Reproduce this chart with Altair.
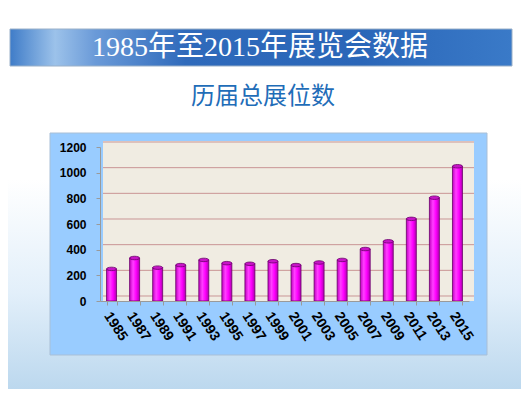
import altair as alt
import pandas as pd

# ---- data ----
years = ["1985", "1987", "1989", "1991", "1993", "1995", "1997", "1999",
         "2001", "2003", "2005", "2007", "2009", "2011", "2013", "2015"]
booths = [250, 335, 260, 280, 320, 295, 290, 310,
          280, 300, 320, 405, 465, 640, 805, 1050]
y_ticks = [0, 200, 400, 600, 800, 1000, 1200]
title_text = "1985年至2015年展览会数据"
subtitle_text = "历届总展位数"

df = pd.DataFrame({"year": years, "booths": booths})
grid_df = pd.DataFrame({"v": y_ticks})
txt_df = pd.DataFrame({"t": [title_text], "s": [subtitle_text]})
one = pd.DataFrame({"k": [0]})

W, H = 369, 154
PAD = {"left": 92, "top": 139, "right": 52, "bottom": 88}

x_scale = alt.Scale(domain=years, paddingInner=0.567, paddingOuter=0.2835)
y_scale = alt.Scale(domain=[0, 1200], nice=False)

y_axis = alt.Axis(values=y_ticks, format="d", labelFont="Liberation Sans",
                  labelFontWeight="bold", labelFontSize=12, labelColor="black",
                  labelPadding=10, tickSize=4, tickColor="#9a9a9a",
                  domainColor="#9a9a9a", grid=False, zindex=1)
x_axis = alt.Axis(labelAngle=57, labelAlign="left", labelBaseline="middle",
                  labelPadding=8, labelOffset=-5, labelFont="Liberation Sans",
                  labelFontWeight="bold", labelFontSize=14, labelColor="black",
                  tickBand="extent", tickSize=4, tickColor="#9a9a9a",
                  domainColor="#9a9a9a", grid=False, zindex=1)

# slide background
bg = alt.Chart(one).mark_rect(
    color=alt.Gradient(gradient="linear", x1=0, x2=0, y1=0, y2=1,
                       stops=[alt.GradientStop(color="#ffffff", offset=0),
                              alt.GradientStop(color="#ffffff", offset=0.45),
                              alt.GradientStop(color="#e2effa", offset=0.75),
                              alt.GradientStop(color="#bcd8ee", offset=1)])
).encode(x=alt.value(-92), x2=alt.value(421), y=alt.value(-139), y2=alt.value(242))

banner = alt.Chart(one).mark_rect(
    stroke="#9ab0c8", strokeWidth=1,
    color=alt.Gradient(gradient="linear", x1=0, x2=1, y1=0, y2=0,
                       stops=[alt.GradientStop(color="#3f7cc8", offset=0),
                              alt.GradientStop(color="#9cc2ea", offset=0.09),
                              alt.GradientStop(color="#6a9ad8", offset=0.17),
                              alt.GradientStop(color="#2f6abb", offset=0.35),
                              alt.GradientStop(color="#2a66b8", offset=0.7),
                              alt.GradientStop(color="#3a7ac8", offset=1)])
).encode(x=alt.value(-90), x2=alt.value(412), y=alt.value(-118), y2=alt.value(-81))

title = alt.Chart(txt_df).mark_text(
    font="'Liberation Serif', 'Noto Sans CJK SC'", fontSize=28, color="white",
    align="center", baseline="middle"
).encode(x=alt.value(160), y=alt.value(-99), text="t:N")

subtitle = alt.Chart(txt_df).mark_text(
    font="'Noto Sans CJK SC'", fontSize=24, color="#1f6db8",
    align="center", baseline="middle"
).encode(x=alt.value(163), y=alt.value(-50), text="s:N")

frame = alt.Chart(one).mark_rect(
    color="#99ccff", stroke="#a9bfd6", strokeWidth=1
).encode(x=alt.value(-50), x2=alt.value(387), y=alt.value(-14), y2=alt.value(208))

wall = alt.Chart(one).mark_rect(color="#f0ece2").encode(
    x=alt.value(3), x2=alt.value(374), y=alt.value(-6), y2=alt.value(154))

grid = alt.Chart(grid_df).mark_rule(color="#c99595", strokeWidth=1, yOffset=-5).encode(
    y=alt.Y("v:Q", scale=y_scale, title=None, axis=y_axis),
    x=alt.value(3), x2=alt.value(374))

bars = alt.Chart(df).mark_bar(
    stroke="#6a006a", strokeWidth=0.8,
    color=alt.Gradient(gradient="linear", x1=0, x2=1, y1=0, y2=0,
                       stops=[alt.GradientStop(color="#c000c0", offset=0),
                              alt.GradientStop(color="#ff40ff", offset=0.35),
                              alt.GradientStop(color="#ff00ff", offset=0.65),
                              alt.GradientStop(color="#b000b0", offset=1)])
).encode(
    x=alt.X("year:N", sort=years, scale=x_scale, title=None, axis=x_axis),
    y=alt.Y("booths:Q", scale=y_scale, title=None, axis=y_axis),
)

ellipse = "M -1 0 A 1 0.35 0 1 1 1 0 A 1 0.35 0 1 1 -1 0 Z"
tops = alt.Chart(df).mark_point(
    shape=ellipse, size=100, filled=True, fill="#c814c8", stroke="#6a006a",
    strokeWidth=0.8, opacity=1
).encode(x=alt.X("year:N", sort=years, scale=x_scale, title=None, axis=x_axis),
         y=alt.Y("booths:Q", scale=y_scale, title=None, axis=y_axis))

chart = alt.layer(bg, banner, title, subtitle, frame, wall, grid, bars, tops).properties(
    width=W, height=H, padding=PAD, autosize=alt.AutoSizeParams(type="none")
).configure(background="white").configure_view(strokeWidth=0)

chart.save("out.html", embed_options={"renderer": "svg", "actions": False})
